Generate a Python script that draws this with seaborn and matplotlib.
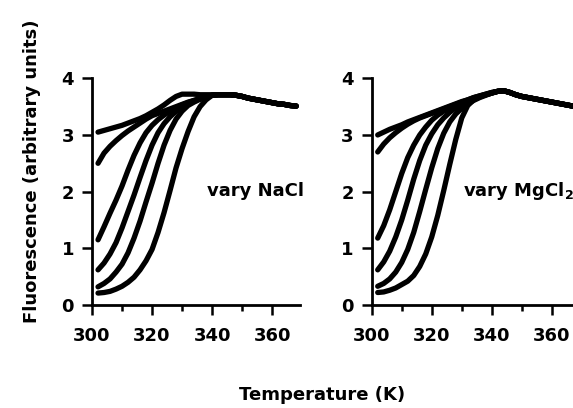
import matplotlib
matplotlib.use("Agg")
import matplotlib.pyplot as plt
import seaborn as sns
from matplotlib.ticker import MultipleLocator


# TEMPERATURE GRID (K)
temp_head = [302, 304, 306, 308, 310, 312, 314, 316, 318, 320,
             322, 324, 326, 328, 330, 332, 334, 336, 338, 340]
temp_tail = [342, 344, 346, 348, 350, 352, 354, 356, 358, 360,
             362, 364, 366, 368]

# VARY NaCl - six melting curves, shared tail after they merge
nacl_1 = [3.05, 3.08, 3.11, 3.14, 3.17, 3.21, 3.25, 3.29, 3.34, 3.40,
          3.46, 3.53, 3.61, 3.68, 3.72, 3.72, 3.72, 3.71, 3.71, 3.71]
nacl_2 = [2.50, 2.68, 2.80, 2.90, 2.99, 3.07, 3.14, 3.21, 3.28, 3.34,
          3.38, 3.42, 3.46, 3.50, 3.54, 3.58, 3.61, 3.64, 3.67, 3.70]
nacl_3 = [1.15, 1.38, 1.62, 1.85, 2.10, 2.38, 2.64, 2.86, 3.04, 3.17,
          3.27, 3.35, 3.42, 3.48, 3.53, 3.57, 3.61, 3.64, 3.67, 3.70]
nacl_4 = [0.62, 0.74, 0.90, 1.10, 1.36, 1.65, 1.94, 2.25, 2.55, 2.82,
          3.04, 3.20, 3.32, 3.42, 3.50, 3.56, 3.60, 3.64, 3.67, 3.70]
nacl_5 = [0.32, 0.38, 0.46, 0.58, 0.72, 0.92, 1.18, 1.48, 1.82, 2.15,
          2.50, 2.82, 3.08, 3.28, 3.42, 3.52, 3.58, 3.63, 3.66, 3.70]
nacl_6 = [0.21, 0.22, 0.24, 0.28, 0.33, 0.40, 0.49, 0.62, 0.78, 0.98,
          1.28, 1.63, 2.02, 2.42, 2.76, 3.06, 3.32, 3.50, 3.62, 3.70]
nacl_tail = [3.71, 3.71, 3.71, 3.70, 3.68, 3.65, 3.63, 3.61, 3.59, 3.57,
             3.55, 3.54, 3.52, 3.51]

# VARY MgCl2
mgcl2_1 = [3.00, 3.05, 3.10, 3.14, 3.18, 3.23, 3.27, 3.31, 3.35, 3.39,
           3.43, 3.47, 3.51, 3.55, 3.59, 3.62, 3.66, 3.69, 3.72, 3.75]
mgcl2_2 = [2.70, 2.84, 2.95, 3.04, 3.12, 3.19, 3.25, 3.30, 3.34, 3.38,
           3.42, 3.46, 3.50, 3.54, 3.58, 3.62, 3.66, 3.69, 3.72, 3.75]
mgcl2_3 = [1.18, 1.40, 1.68, 2.00, 2.32, 2.60, 2.82, 3.00, 3.14, 3.26,
           3.35, 3.42, 3.48, 3.53, 3.57, 3.61, 3.65, 3.68, 3.71, 3.74]
mgcl2_4 = [0.62, 0.76, 0.95, 1.20, 1.50, 1.85, 2.22, 2.55, 2.82, 3.02,
           3.18, 3.30, 3.40, 3.48, 3.54, 3.59, 3.64, 3.68, 3.71, 3.74]
mgcl2_5 = [0.33, 0.38, 0.46, 0.58, 0.75, 0.98, 1.28, 1.65, 2.04, 2.42,
           2.76, 3.03, 3.23, 3.37, 3.47, 3.55, 3.61, 3.66, 3.70, 3.74]
mgcl2_6 = [0.22, 0.23, 0.26, 0.30, 0.36, 0.42, 0.52, 0.68, 0.90, 1.20,
           1.58, 2.02, 2.48, 2.92, 3.30, 3.52, 3.62, 3.67, 3.71, 3.74]
mgcl2_tail = [3.77, 3.78, 3.75, 3.71, 3.68, 3.66, 3.64, 3.62, 3.60, 3.58,
              3.56, 3.54, 3.52, 3.50]

x_ticks = [300, 320, 340, 360]
y_ticks = [0, 1, 2, 3, 4]


# STYLE
sns.set_style("ticks")
plt.rcParams["font.family"] = ["DejaVu Sans"]
plt.rcParams["font.weight"] = "bold"
plt.rcParams["mathtext.default"] = "bf"
plt.rcParams["text.color"] = "black"

fig = plt.figure(figsize=(5.73, 4.08), dpi=100)

# right panel runs past the figure edge, like the original crop
ax1 = fig.add_axes([0.1606, 0.2525, 0.363, 0.5556])
ax2 = fig.add_axes([0.6487, 0.2525, 0.363, 0.5556])

panels = [
    (ax1, [nacl_1, nacl_2, nacl_3, nacl_4, nacl_5, nacl_6], nacl_tail,
     "vary NaCl", 338.2),
    (ax2, [mgcl2_1, mgcl2_2, mgcl2_3, mgcl2_4, mgcl2_5, mgcl2_6], mgcl2_tail,
     "vary MgCl$_2$", 330.5),
]

temps = temp_head + temp_tail

for ax, curves, tail, label, label_x in panels:
    for curve in curves:
        sns.lineplot(
            x=temps,
            y=curve + tail,
            ax=ax,
            color="black",
            linewidth=3.8,
            estimator=None,
            sort=False,
            solid_capstyle="round"
        )

    ax.text(label_x, 1.92, label, ha="left", va="baseline",
            fontsize=13, fontweight="bold", color="black")

    ax.set_xlim(300, 369.3)
    ax.set_ylim(0, 4)
    ax.set_xticks(x_ticks)
    ax.set_yticks(y_ticks)
    ax.xaxis.set_minor_locator(MultipleLocator(10))

    sns.despine(ax=ax)
    for side in ["left", "bottom"]:
        ax.spines[side].set_linewidth(2)
        ax.spines[side].set_color("black")

    ax.tick_params(axis="both", which="major", direction="out",
                   length=7, width=1.8, labelsize=13,
                   colors="black", labelcolor="black")
    ax.tick_params(axis="x", which="major", pad=9)
    ax.tick_params(axis="y", which="major", pad=6)
    ax.tick_params(axis="x", which="minor", direction="out",
                   length=4.5, width=1.8, colors="black")
    for lbl in ax.get_xticklabels() + ax.get_yticklabels():
        lbl.set_fontweight("bold")

    ax.set_xlabel("")
    ax.set_ylabel("")

fig.text(0.055, 0.581, "Fluorescence (arbitrary units)", rotation=90,
         ha="center", va="center", fontsize=13, fontweight="bold",
         color="black")
fig.text(0.562, 0.0196, "Temperature (K)", ha="center", va="baseline",
         fontsize=13, fontweight="bold", color="black")

fig.savefig("out.png", dpi=100)
